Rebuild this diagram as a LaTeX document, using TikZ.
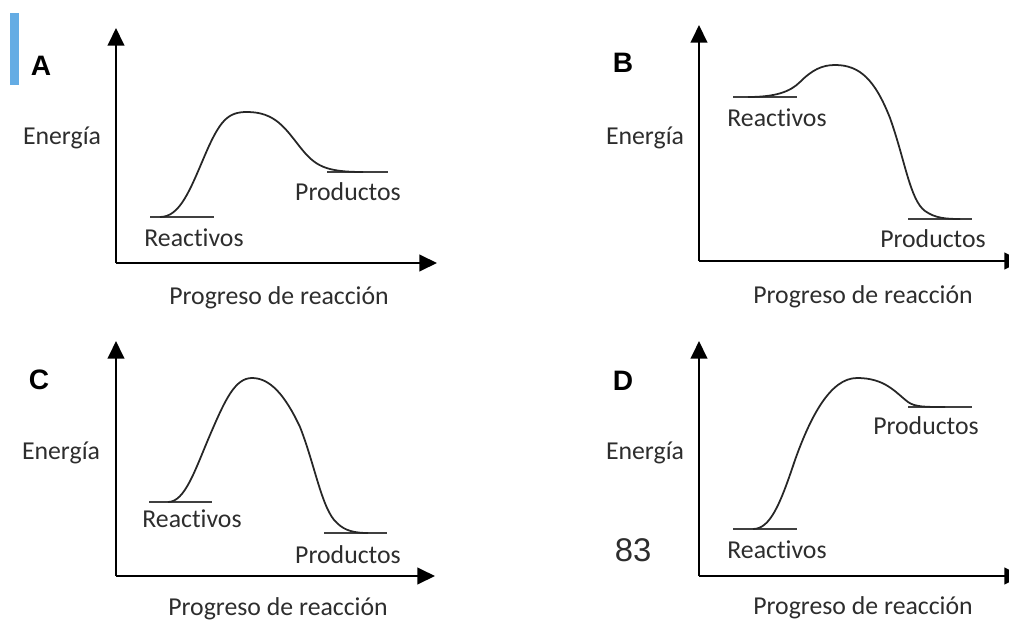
\documentclass[tikz,border=0pt]{standalone}
\usepackage{fontspec}
\setmainfont{Carlito}[Ligatures={NoCommon}]
\newfontfamily\arialfont{Liberation Sans}
\usetikzlibrary{arrows.meta}
\definecolor{barblue}{RGB}{100,172,228}
\definecolor{txtgray}{RGB}{45,45,45}
\tikzset{
  axis/.style={line width=2.3pt,-{Triangle[length=15pt,width=14pt]}},
  curve/.style={line width=1.5pt,black!85},
  level/.style={line width=1.2pt,black!75},
  lbl/.style={inner sep=0pt,text=txtgray,font=\fontsize{22}{26}\selectfont},
  tag/.style={inner sep=0pt,font=\arialfont\bfseries\fontsize{24}{28}\selectfont}
}

\begin{document}
\begin{tikzpicture}[x=0.03cm,y=-0.03cm]
\useasboundingbox (0,0) rectangle (1009,623);
\fill[barblue] (10,13) rectangle (19,85);

% A
\coordinate (oA) at (116,263);
\coordinate (yA) at (116,28);
\coordinate (xA) at (437,263);
\draw[axis] (oA) -- (yA);
\draw[axis] (oA) -- (xA);
\coordinate (r1A) at (150,217);
\coordinate (r2A) at (214,217);
\coordinate (p1A) at (327,172);
\coordinate (p2A) at (388,172);
\draw[level] (r1A) -- (r2A);
\draw[level] (p1A) -- (p2A);
\draw[curve] (160,217) .. controls (180,217) and (190,190) .. (205,155)
  .. controls (220,120) and (228,112) .. (247,112)
  .. controls (275,112) and (285,128) .. (300,147)
  .. controls (315,166) and (325,172) .. (363,172);
\node[tag] (tagA) at (41,66) {A};
\node[lbl] (enA) at (62,138) {Energía};
\node[lbl] (reA) at (194,238) {Reactivos};
\node[lbl] (prA) at (348,192) {Productos};
\node[lbl] (xlA) at (279,298) {Progreso de reacción};

% B
\coordinate (oB) at (699,261);
\coordinate (yB) at (699,25);
\coordinate (xB) at (1022,261);
\draw[axis] (oB) -- (yB);
\draw[axis] (oB) -- (xB);
\coordinate (r1B) at (733,97);
\coordinate (r2B) at (797,97);
\coordinate (p1B) at (908,219);
\coordinate (p2B) at (972,219);
\draw[level] (r1B) -- (r2B);
\draw[level] (p1B) -- (p2B);
\draw[curve] (748,97) .. controls (775,97) and (790,92) .. (800,82)
  .. controls (812,70) and (822,65) .. (835,65)
  .. controls (860,65) and (875,80) .. (890,118)
  .. controls (905,160) and (910,200) .. (925,211)
  .. controls (935,218) and (945,219) .. (960,219);
\node[tag] (tagB) at (623,63) {B};
\node[lbl] (enB) at (645,138) {Energía};
\node[lbl] (reB) at (777,118) {Reactivos};
\node[lbl] (prB) at (933,239) {Productos};
\node[lbl] (xlB) at (863,297) {Progreso de reacción};

% C
\coordinate (oC) at (116,576);
\coordinate (yC) at (116,341);
\coordinate (xC) at (435,576);
\draw[axis] (oC) -- (yC);
\draw[axis] (oC) -- (xC);
\coordinate (r1C) at (149,502);
\coordinate (r2C) at (212,502);
\coordinate (p1C) at (324,533);
\coordinate (p2C) at (387,533);
\draw[level] (r1C) -- (r2C);
\draw[level] (p1C) -- (p2C);
\draw[curve] (168,502) .. controls (185,502) and (195,470) .. (210,435)
  .. controls (225,400) and (235,378) .. (252,378)
  .. controls (270,378) and (285,395) .. (300,427)
  .. controls (315,465) and (322,510) .. (337,523)
  .. controls (345,531) and (355,533) .. (368,533);
\node[tag] (tagC) at (39,380) {C};
\node[lbl] (enC) at (61,453) {Energía};
\node[lbl] (reC) at (192,519) {Reactivos};
\node[lbl] (prC) at (348,555) {Productos};
\node[lbl] (xlC) at (278,609) {Progreso de reacción};

% D
\coordinate (oD) at (699,576);
\coordinate (yD) at (699,341);
\coordinate (xD) at (1022,576);
\draw[axis] (oD) -- (yD);
\draw[axis] (oD) -- (xD);
\coordinate (r1D) at (733,529);
\coordinate (r2D) at (797,529);
\coordinate (p1D) at (908,407);
\coordinate (p2D) at (972,407);
\draw[level] (r1D) -- (r2D);
\draw[level] (p1D) -- (p2D);
\draw[curve] (753,529) .. controls (770,529) and (780,505) .. (795,460)
  .. controls (810,418) and (830,378) .. (857,378)
  .. controls (885,378) and (895,392) .. (908,402)
  .. controls (915,407) and (925,407) .. (945,407);
\node[tag] (tagD) at (623,381) {D};
\node[lbl] (enD) at (645,453) {Energía};
\node[inner sep=0pt,font=\arialfont\fontsize{28}{32}\selectfont,text=txtgray] (numD) at (633,550) {83};
\node[lbl] (reD) at (777,550) {Reactivos};
\node[lbl] (prD) at (926,426) {Productos};
\node[lbl] (xlD) at (863,608) {Progreso de reacción};
\end{tikzpicture}
\end{document}
